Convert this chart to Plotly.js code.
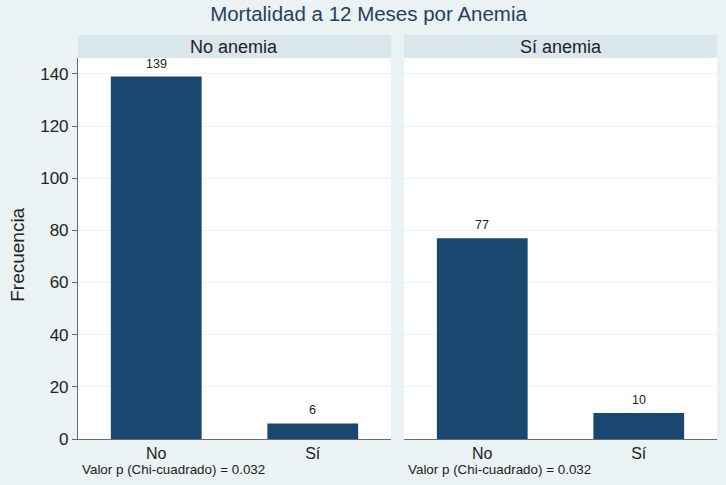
<!DOCTYPE html>
<html>
<head>
<meta charset="utf-8">
<script src="https://cdn.plot.ly/plotly-3.0.1.min.js"></script>
<style>
  html, body { margin: 0; padding: 0; background: #eaf2f3; }
  #chart { width: 726px; height: 485px; }
</style>
</head>
<body>
<div id="chart"></div>
<script>
// Mortalidad a 12 meses por anemia — dos paneles tipo Stata (by())

const groups = ["No anemia", "Sí anemia"];
const outcomes = ["No", "Sí"];
const countsNoAnemia = [139, 6];
const countsSiAnemia = [77, 10];
const pValueText = "Valor p (Chi-cuadrado) = 0.032";
const yTicks = [0, 20, 40, 60, 80, 100, 120, 140];

(function () {
    const dom = document.getElementById("chart");

    const C = {
        bg: "#eaf2f3",
        strip: "#d9e6eb",
        bar: "#1a476f",
        axis: "#6b6b6b",
        grid: "#eef3f5",
        text: "#222222",
        title: "#27405c"
    };
    const FONT = "Liberation Sans, Arial, sans-serif";

    function barTrace(values, xaxis, yaxis) {
        return {
            type: "bar",
            x: outcomes,
            y: values,
            marker: { color: C.bar, line: { width: 0 } },
            hoverinfo: "skip",
            showlegend: false,
            xaxis,
            yaxis
        };
    }

    // etiquetas de valor encima de cada barra
    function valueLabels(values, xaxis, yaxis) {
        return values.map((v, i) => ({
            text: String(v),
            xref: xaxis, yref: yaxis,
            x: outcomes[i], y: v,
            xanchor: "center", yanchor: "bottom",
            yshift: 4,
            showarrow: false,
            font: { size: 12.5, color: C.text, family: FONT }
        }));
    }

    const traces = [
        barTrace(countsNoAnemia, "x", "y"),
        barTrace(countsSiAnemia, "x2", "y2")
    ];

    const yTop = 146.1;
    const plotY = [0.0948, 0.8804];
    const stripTop = 0.9278;

    const xStyle = {
        type: "category",
        showline: true,
        linecolor: C.axis,
        linewidth: 1,
        ticks: "",
        showgrid: false,
        zeroline: false,
        tickfont: { size: 16, color: C.text, family: FONT },
        fixedrange: true
    };

    const yStyle = {
        range: [0, yTop],
        tickvals: yTicks,
        showgrid: true,
        gridcolor: C.grid,
        zeroline: false,
        domain: plotY,
        fixedrange: true
    };

    const annots = [];
    const shapes = [];
    ["x", "x2"].forEach((ax, i) => {
        shapes.push({
            type: "rect",
            xref: ax + " domain", yref: "paper",
            x0: 0, x1: 1, y0: plotY[1], y1: stripTop,
            fillcolor: C.strip, line: { width: 0 }, layer: "below"
        });
        annots.push({
            text: groups[i],
            xref: ax + " domain", yref: "paper",
            x: 0.5, y: (plotY[1] + stripTop) / 2,
            xanchor: "center", yanchor: "middle",
            showarrow: false,
            font: { size: 18, color: C.text, family: FONT }
        });
        annots.push({
            text: pValueText,
            xref: ax + " domain", yref: "paper",
            x: 0.006, y: 0.031,
            xanchor: "left", yanchor: "middle",
            showarrow: false,
            font: { size: 13.4, color: C.text, family: FONT }
        });
    });
    annots.push(...valueLabels(countsNoAnemia, "x", "y"));
    annots.push(...valueLabels(countsSiAnemia, "x2", "y2"));

    // título del eje Y
    annots.push({
        text: "Frecuencia",
        xref: "paper", yref: "paper",
        x: 0.023, y: 0.474,
        xanchor: "center", yanchor: "middle",
        textangle: -90,
        showarrow: false,
        font: { size: 19, color: C.text, family: FONT }
    });

    const layout = {
        width: 726,
        height: 485,
        title: {
            text: "Mortalidad a 12 Meses por Anemia",
            x: 0.5076, xanchor: "center",
            y: 0.971, yanchor: "middle",
            font: { size: 20.5, color: C.title, family: FONT }
        },
        paper_bgcolor: C.bg,
        plot_bgcolor: "#ffffff",
        margin: { t: 0, b: 0, l: 0, r: 0 },
        font: { family: FONT },
        bargap: 0.42,
        xaxis: { ...xStyle, domain: [0.1074, 0.5386], anchor: "y" },
        xaxis2: { ...xStyle, domain: [0.5565, 0.9876], anchor: "y2" },
        yaxis: {
            ...yStyle,
            anchor: "x",
            showline: true,
            linecolor: C.axis,
            linewidth: 1,
            ticks: "outside",
            ticklen: 5,
            tickcolor: C.axis,
            tickfont: { size: 17, color: C.text, family: FONT }
        },
        yaxis2: {
            ...yStyle,
            anchor: "x2",
            showline: false,
            showticklabels: false,
            ticks: ""
        },
        shapes,
        annotations: annots
    };

    Plotly.newPlot(dom, traces, layout, { displayModeBar: false, staticPlot: true });
})();
</script>
</body>
</html>
